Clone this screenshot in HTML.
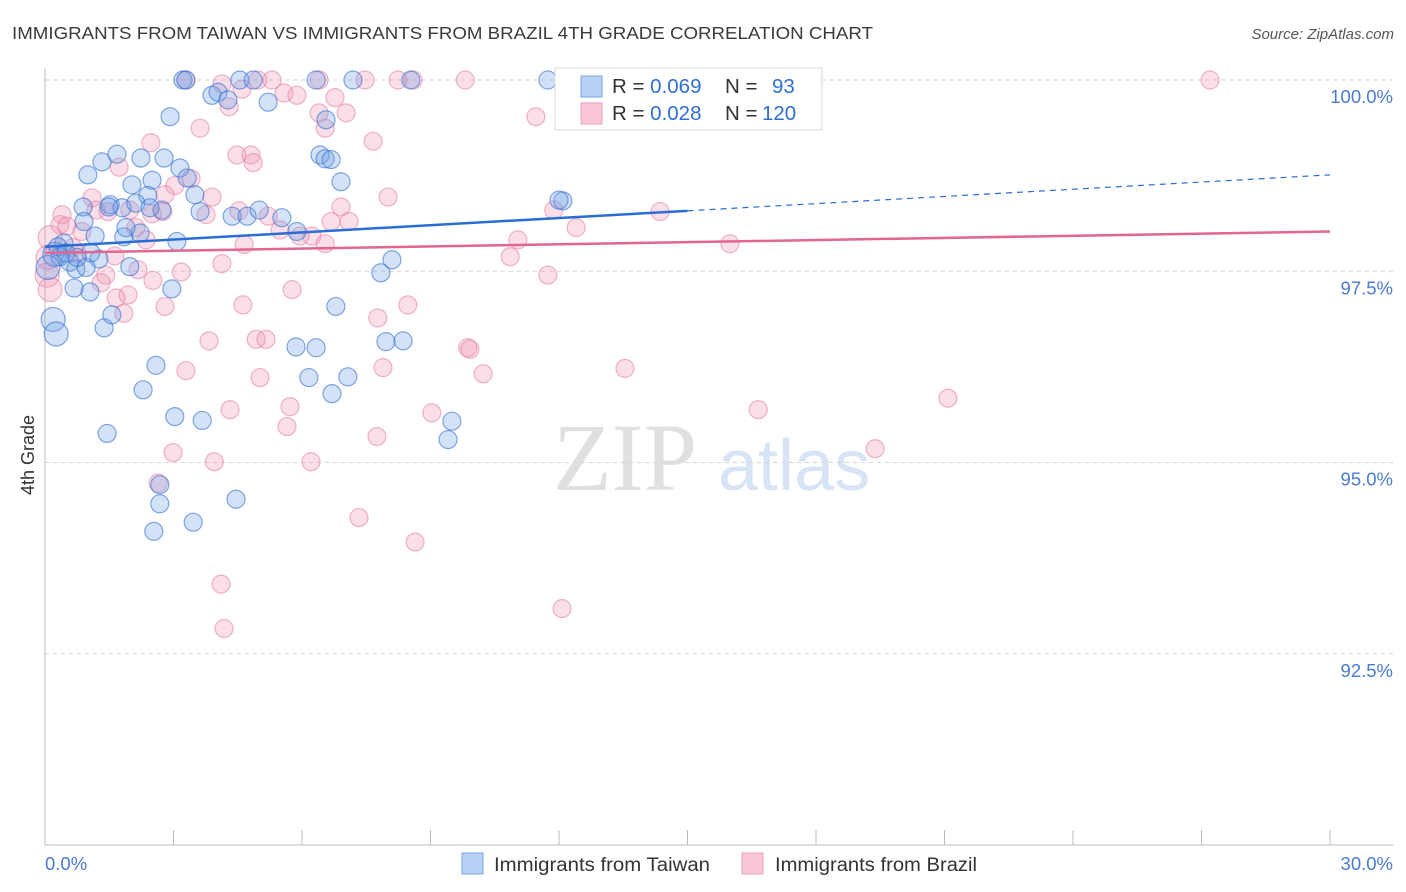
<!DOCTYPE html>
<html><head><meta charset="utf-8"><style>
body{margin:0;background:#fff;font-family:"Liberation Sans",sans-serif}
svg{display:block}
</style></head><body>
<svg id="chart" width="1406" height="892" viewBox="0 0 1406 892" xmlns="http://www.w3.org/2000/svg">
<text x="12" y="39" font-size="17.5" fill="#3a3a3a" textLength="861" lengthAdjust="spacingAndGlyphs">IMMIGRANTS FROM TAIWAN VS IMMIGRANTS FROM BRAZIL 4TH GRADE CORRELATION CHART</text>
<text x="1394" y="39" font-size="15" font-style="italic" fill="#555" text-anchor="end">Source: ZipAtlas.com</text>
<g>
<text x="553" y="490" font-family="Liberation Serif,serif" font-size="96" fill="#e0e0e0">ZIP</text>
<text x="718" y="490" font-size="72" fill="#d6e4f5">atlas</text>
</g>
<g id="grid"></g>
<g id="axes"></g>
<g id="pts"></g>
<g id="lines"></g>
<text transform="translate(34,455) rotate(-90)" font-size="18" fill="#333" text-anchor="middle">4th Grade</text>
<g>
<rect x="555" y="68" width="267" height="62" fill="#fff" stroke="#d8d8d8"/>
<rect x="581" y="76" width="21" height="21" fill="#b7d0f3" stroke="#7aa6e6"/>
<rect x="581" y="103" width="21" height="21" fill="#f8c6d6" stroke="#eba3bc"/>
<text x="612" y="93" font-size="20.5" fill="#333">R = <tspan fill="#2f6fd0">0.069</tspan><tspan x="725">N =</tspan><tspan x="772" fill="#2f6fd0">93</tspan></text>
<text x="612" y="120" font-size="20.5" fill="#333">R = <tspan fill="#2f6fd0">0.028</tspan><tspan x="725">N =</tspan><tspan x="762" fill="#2f6fd0">120</tspan></text>
</g>
<g>
<rect x="462" y="853" width="21" height="21" fill="#b7d0f3" stroke="#7aa6e6"/>
<text x="494" y="871" font-size="19" fill="#333" textLength="216" lengthAdjust="spacingAndGlyphs">Immigrants from Taiwan</text>
<rect x="742" y="853" width="21" height="21" fill="#f8c6d6" stroke="#eba3bc"/>
<text x="775" y="871" font-size="19" fill="#333" textLength="202" lengthAdjust="spacingAndGlyphs">Immigrants from Brazil</text>
</g>
</svg>
<script>
const yTicks=[92.5,95,97.5,100];
const yTickLabels=["92.5%","95.0%","97.5%","100.0%"];
const xTicks=[0,3,6,9,12,15,18,21,24,27,30];
const xTickLabels=["0.0%","30.0%"];
const taiwanX=[3.22,3.29,4.55,4.86,6.33,7.19,8.54,11.74,3.90,4.04,4.27,5.21,2.92,1.33,1.68,2.24,2.78,3.15,1.00,2.03,2.50,3.32,2.40,3.50,1.52,0.89,1.80,2.12,2.73,3.62,4.37,4.72,5.00,5.53,1.17,1.84,2.22,1.89,0.44,3.08,0.23,0.35,0.58,0.07,1.26,0.72,1.98,0.19,0.26,1.38,1.56,1.05,0.68,2.96,6.42,6.54,6.68,6.56,6.91,12.09,12.00,5.88,8.10,7.84,6.79,7.96,8.36,5.86,6.33,2.59,2.29,6.16,7.07,6.70,3.03,3.67,9.50,9.41,1.45,2.68,2.68,4.46,3.46,2.54,0.96,0.30,0.49,1.07,0.91,1.49,0.75,2.45];
const taiwanY=[100,100,100,100,100,100,100,100,99.80,99.84,99.74,99.71,99.52,98.93,99.03,98.98,98.98,98.85,98.76,98.63,98.69,98.72,98.49,98.50,98.37,98.34,98.33,98.39,98.30,98.28,98.22,98.22,98.30,98.20,97.96,97.95,98.00,98.07,97.87,97.89,97.72,97.69,97.62,97.55,97.66,97.53,97.56,96.87,96.68,96.76,96.93,97.23,97.28,97.27,99.02,98.97,98.96,99.48,98.67,98.42,98.43,98.02,97.65,97.48,97.04,96.58,96.59,96.51,96.50,96.27,95.95,96.11,96.12,95.90,95.60,95.55,95.54,95.30,95.38,94.71,94.46,94.52,94.22,94.10,97.55,97.82,97.74,97.74,98.15,98.34,97.68,98.33];
const brazilX=[3.29,5.30,4.97,6.40,7.47,8.24,8.59,9.81,16.20,27.20,4.13,4.60,5.58,5.88,6.77,4.30,7.03,6.40,11.46,6.54,3.62,2.47,7.66,4.48,4.81,4.86,1.73,3.41,3.03,2.80,3.90,8.01,1.10,0.40,1.47,1.98,2.75,3.76,4.53,5.21,6.91,6.68,7.10,5.49,6.23,5.95,6.54,4.65,2.36,0.86,0.65,0.75,11.88,12.40,14.36,11.04,10.86,11.74,15.99,0.12,0.07,0.05,0.12,0.35,1.63,1.42,2.17,3.18,4.13,1.31,1.94,1.66,2.52,5.77,2.80,4.62,8.47,7.77,1.84,3.83,4.93,5.16,9.87,9.92,3.29,5.02,10.23,13.54,7.89,21.08,16.65,4.32,5.72,9.03,5.65,2.99,7.75,3.95,6.21,19.38,2.64,7.33,8.64,4.11,12.07,4.18,0.51,2.12,1.19,2.50];
const brazilY=[100,100,100,100,100,100,100,100,100,100,99.95,99.88,99.83,99.80,99.77,99.65,99.57,99.57,99.52,99.37,99.37,99.18,99.20,99.02,99.02,98.92,98.86,98.71,98.62,98.50,98.47,98.47,98.46,98.24,98.28,98.30,98.28,98.24,98.29,98.22,98.34,98.15,98.15,98.04,97.96,97.96,97.86,97.85,97.91,98.02,97.81,97.73,98.30,98.07,98.28,97.91,97.69,97.45,97.86,97.94,97.68,97.45,97.26,98.11,97.70,97.45,97.52,97.49,97.60,97.35,97.19,97.15,97.38,97.26,97.04,97.06,97.06,96.89,96.95,96.59,96.61,96.61,96.50,96.48,96.20,96.11,96.16,96.23,96.24,95.84,95.69,95.69,95.73,95.65,95.47,95.13,95.34,95.01,95.01,95.18,94.73,94.28,93.96,93.41,93.09,92.83,98.09,98.07,98.30,98.25];
const taiwanTrend=[97.82,98.76];
const brazilTrend=[97.74,98.02];

const NS="http://www.w3.org/2000/svg";
const X0=45,X1=1330,Y0=80,Y1=845;
const sx=v=>X0+(v-0)/30*(X1-X0);
const sy=v=>Y0+(100-v)/10*(Y1-Y0);
function mk(tag,attrs,parent){const e=document.createElementNS(NS,tag);for(const k in attrs)e.setAttribute(k,attrs[k]);parent.appendChild(e);return e;}
const grid=document.getElementById('grid'),axes=document.getElementById('axes'),pts=document.getElementById('pts'),lines=document.getElementById('lines');
yTicks.forEach((t,i)=>{
  const l=mk('line',{x1:X0,x2:1393,y1:sy(t),y2:sy(t),stroke:'#d5d5d5','stroke-dasharray':'4 4'},grid);
  
  
  const tx=mk('text',{x:1393,y:sy(t)+23,'font-size':18.5,fill:'#4a7bd0','text-anchor':'end'},grid);
  tx.textContent=yTickLabels[i];
  
  
});
let a=mk('line',{x1:X0,x2:X0,y1:68,y2:Y1,stroke:'#bbb'},axes);


a=mk('line',{x1:X0,x2:1393,y1:Y1,y2:Y1,stroke:'#bbb'},axes);


xTicks.forEach(t=>{
  const l=mk('line',{x1:sx(t),x2:sx(t),y1:830,y2:Y1,stroke:'#bbb'},axes);
  
  
});
[[0,'start'],[30,'end']].forEach((p,i)=>{
  const tx=mk('text',{x:i?1393:X0,y:870,'font-size':18.5,fill:'#4a7bd0','text-anchor':p[1]},axes);
  tx.textContent=xTickLabels[i];
  
  
});
function series(xs,ys,fill,stroke,name){
  xs.forEach((x,i)=>{
    const r=x<0.3?12:9;
    const c=mk('circle',{cx:sx(x),cy:sy(ys[i]),r:r,fill:fill,stroke:stroke,'stroke-width':1.2},pts);
    
    
  });
}
series(brazilX,brazilY,'rgba(240,150,180,0.3)','rgba(230,120,160,0.55)','brazil-point');
series(taiwanX,taiwanY,'rgba(110,160,230,0.3)','rgba(50,110,210,0.6)','taiwan-point');
const tAt=x=>taiwanTrend[0]+(taiwanTrend[1]-taiwanTrend[0])*x/30;
const bAt=x=>brazilTrend[0]+(brazilTrend[1]-brazilTrend[0])*x/30;
let l=mk('line',{x1:sx(0),y1:sy(tAt(0)),x2:sx(15),y2:sy(tAt(15)),stroke:'#2a6dd4','stroke-width':2.5},lines);


l=mk('line',{x1:sx(15),y1:sy(tAt(15)),x2:sx(30),y2:sy(tAt(30)),stroke:'#2a6dd4','stroke-width':1.2,'stroke-dasharray':'6 5'},lines);


l=mk('line',{x1:sx(0),y1:sy(bAt(0)),x2:sx(30),y2:sy(bAt(30)),stroke:'#e26690','stroke-width':2.5},lines);


</script>
</body></html>
